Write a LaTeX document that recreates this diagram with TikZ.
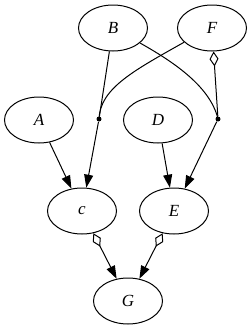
\documentclass[tikz,border=0pt]{standalone}
\usepackage{fontspec}
\setmainfont{Liberation Serif}
\usetikzlibrary{shapes.geometric,arrows.meta}
\tikzset{
  ell/.style={draw,ellipse,minimum width=69pt,minimum height=46pt,inner sep=0pt,font=\fontsize{17}{20}\selectfont\itshape},
  junc/.style={circle,fill,minimum size=5pt,inner sep=0pt},
  arr/.style={-{Triangle[length=13pt,width=9pt]}},
  dia/.style={{Diamond[open,length=15pt,width=9pt]}-},
  diaarr/.style={{Diamond[open,length=15pt,width=9pt]}-{Triangle[length=13pt,width=9pt]}},
}
\begin{document}
\begin{tikzpicture}[x=1pt,y=-1pt,line width=1pt]
\useasboundingbox (0,0) rectangle (250,330);
\node[ell] (B) at (113,28) {B};
\node[ell] (F) at (212,28) {F};
\node[ell] (A) at (39,120) {A};
\node[ell] (D) at (158,120) {D};
\node[junc] (j1) at (99,119) {};
\node[junc] (j2) at (218,119) {};
\node[ell] (c) at (82,211) {c};
\node[ell] (E) at (174,211) {E};
\node[ell] (G) at (128,301) {G};
\draw (B) -- (j1);
\draw (F.207) .. controls (135,70) and (100,88) .. (j1.center);
\draw (B.331) .. controls (170,60) and (210,85) .. (j2.center);
\draw[dia] (F) -- (j2);
\draw[arr] (j1) -- (c);
\draw[arr] (j2) -- (E);
\draw[arr] (A) -- (c);
\draw[arr] (D) -- (E);
\draw[diaarr] (c) -- (G);
\draw[diaarr] (E) -- (G);
\end{tikzpicture}
\end{document}
